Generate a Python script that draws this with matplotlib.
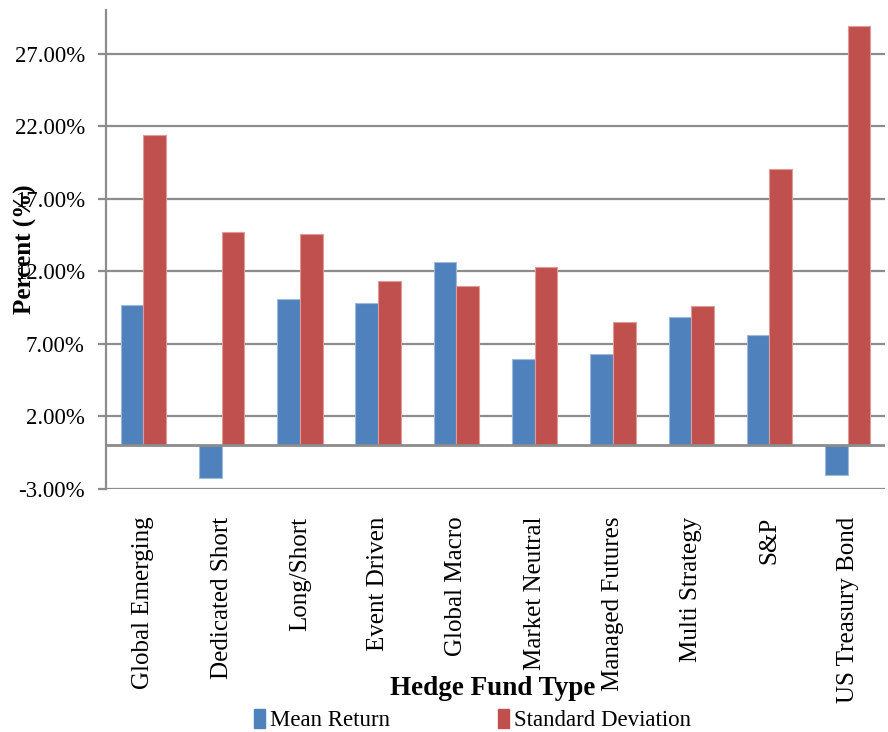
import matplotlib
matplotlib.use("Agg")
from matplotlib import pyplot as plt
from matplotlib.ticker import FuncFormatter
from matplotlib.patches import Patch
import numpy as np

plt.rcParams['font.family'] = ['Liberation Serif', 'DejaVu Serif']

# data (percent)
fund_types = ["Global Emerging", "Dedicated Short", "Long/Short", "Event Driven",
              "Global Macro", "Market Neutral", "Managed Futures", "Multi Strategy",
              "S&P", "US Treasury Bond"]
mean_return = [9.70, -2.23, 10.10, 9.79, 12.62, 5.98, 6.32, 8.87, 7.59, -2.07]
std_dev = [21.43, 14.69, 14.60, 11.31, 11.01, 12.32, 8.51, 9.61, 19.08, 28.90]
y_ticks = [-3, 2, 7, 12, 17, 22, 27]

blue = '#4F81BD'
red = '#C0504D'
grid_col = '#8c8c8c'

fig = plt.figure(figsize=(8.88, 7.32), dpi=100)
ax = fig.add_axes([0.119, 0.332, 0.878, 0.654])

x = np.arange(len(fund_types))
w = 0.29
ax.bar(x - w/2, mean_return, w, color=blue, edgecolor='#9fb8dc', linewidth=0.8,
       label='Mean Return', zorder=3)
ax.bar(x + w/2, std_dev, w, color=red, edgecolor='#e09a98', linewidth=0.8,
       label='Standard Deviation', zorder=3)

ax.set_xlim(-0.48, len(fund_types) - 0.52)
ax.set_ylim(-3, 30)
ax.set_yticks(y_ticks)
ax.yaxis.set_major_formatter(FuncFormatter(lambda v, p: '%.2f%%' % v))
ax.grid(axis='y', color=grid_col, linewidth=1.6, zorder=0)
ax.axhline(0, color=grid_col, linewidth=2.0, zorder=4)

for s in ['top', 'right', 'bottom']:
    ax.spines[s].set_visible(False)
ax.spines['left'].set_color(grid_col)
ax.spines['left'].set_linewidth(1.6)

ax.set_xticks(x)
ax.set_xticklabels(fund_types, rotation=90, fontsize=18)
ax.tick_params(axis='x', length=0, pad=20)
ax.tick_params(axis='y', labelsize=16.5, length=6, width=1.6, color=grid_col, pad=9)

# the axis title sits over the tick labels, as in the original chart
ax.set_ylabel('Percent (%)', fontsize=18, fontweight='bold')
ax.yaxis.set_label_coords(-0.088, 0.5)
fig.text(0.555, 0.06, 'Hedge Fund Type', fontsize=19.5, fontweight='bold',
         ha='center', va='center')

handles = [Patch(color=blue), Patch(color=red)]
fig.legend(handles, ['Mean Return', 'Standard Deviation'], loc='center',
           bbox_to_anchor=(0.532, 0.016), ncol=2, frameon=False, fontsize=16.5,
           handlelength=0.5, handleheight=0.9, handletextpad=0.2, columnspacing=4.7)

fig.savefig('out.png', dpi=100)
